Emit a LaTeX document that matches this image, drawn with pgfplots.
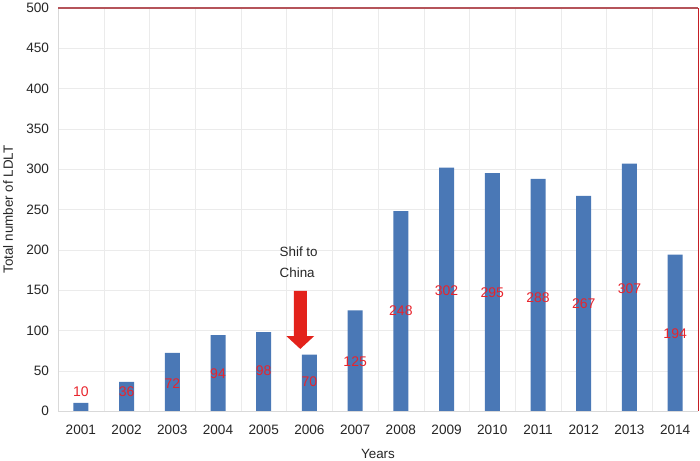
\documentclass[border=0pt]{standalone}
\usepackage{pgfplots}
\pgfplotsset{compat=1.18}
\usepackage{fontspec}
\setmainfont{Liberation Sans}
\definecolor{barblue}{HTML}{4A78B6}
\definecolor{lblred}{HTML}{E8242C}
\definecolor{arrred}{HTML}{E3221B}
\definecolor{frame}{HTML}{B5545A}
\begin{document}
\begin{tikzpicture}
\begin{axis}[
  scale only axis,
  width=640pt, height=403pt,
  xmin=-0.5, xmax=13.5,
  ymin=0, ymax=500,
  ytick={0,50,...,500},
  xtick={0,...,13},
  xticklabels={2001,2002,2003,2004,2005,2006,2007,2008,2009,2010,2011,2012,2013,2014},
  minor xtick={0.5,1.5,...,12.5},
  ymajorgrids, xminorgrids,
  major grid style={draw=black!8},
  minor grid style={draw=black!8},
  major tick length=0pt, minor tick length=0pt,
  axis line style={draw=none},
  tick label style={font=\fontsize{13.6}{15}\selectfont, text=black!85},
  /pgf/number format/assume math mode=true,
  xticklabel style={yshift=-10pt},
  yticklabel style={xshift=-5.5pt},
  ylabel={Total number of LDLT},
  xlabel={Years},
  label style={font=\fontsize{13.4}{15}\selectfont, text=black!85},
  ylabel style={at={(axis description cs:0,0.5)}, anchor=center, rotate=0, yshift=50pt},
  xlabel style={at={(axis description cs:0.5,0)}, anchor=center, yshift=-43pt},
  clip=false,
]
\addplot[ybar, bar width=15pt, fill=barblue, draw=none] coordinates {
  (0,10) (1,36) (2,72) (3,94) (4,98) (5,70) (6,125) (7,248)
  (8,302) (9,295) (10,288) (11,267) (12,307) (13,194)};
\addplot[draw=none, mark=none, nodes near coords, point meta=explicit symbolic,
  nodes near coords align={center},
  every node near coord/.append style={font=\fontsize{14}{15}\selectfont, text=lblred, inner sep=0pt}]
  table[meta=lab] {
x y lab
0 23.6 10
1 24 36
2 33.7 72
3 46 94
4 49.8 98
5 36 70
6 60.8 125
7 124.4 248
8 149.5 302
9 146.6 295
10 140.8 288
11 132.7 267
12 151.3 307
13 95.5 194
};
% frame lines
\draw[black!15, line width=0.8pt] (rel axis cs:0,0) -- (rel axis cs:0,1);
\draw[black!15, line width=0.8pt] (rel axis cs:0,0) -- (rel axis cs:1,0);
\draw[frame, line width=1.6pt] (rel axis cs:0,1) -- (rel axis cs:1,1);
\draw[lblred!85!black, line width=1pt] (rel axis cs:1,0) -- (rel axis cs:1,1);
% arrow
\fill[arrred] (axis cs:4.658,149) -- (axis cs:4.942,149) -- (axis cs:4.942,93)
  -- (axis cs:5.105,93) -- (axis cs:4.8,77) -- (axis cs:4.495,93)
  -- (axis cs:4.658,93) -- cycle;
\node[anchor=west, align=left, inner sep=0pt, font=\fontsize{13.4}{21}\selectfont, text=black!85]
  at (axis cs:4.345,184) {Shif to\\China};
\end{axis}
\pgfresetboundingbox
\path[use as bounding box] ([shift={(-58pt,-49pt)}]current axis.south west) rectangle ([shift={(2pt,8pt)}]current axis.north east);
\end{tikzpicture}
\end{document}
